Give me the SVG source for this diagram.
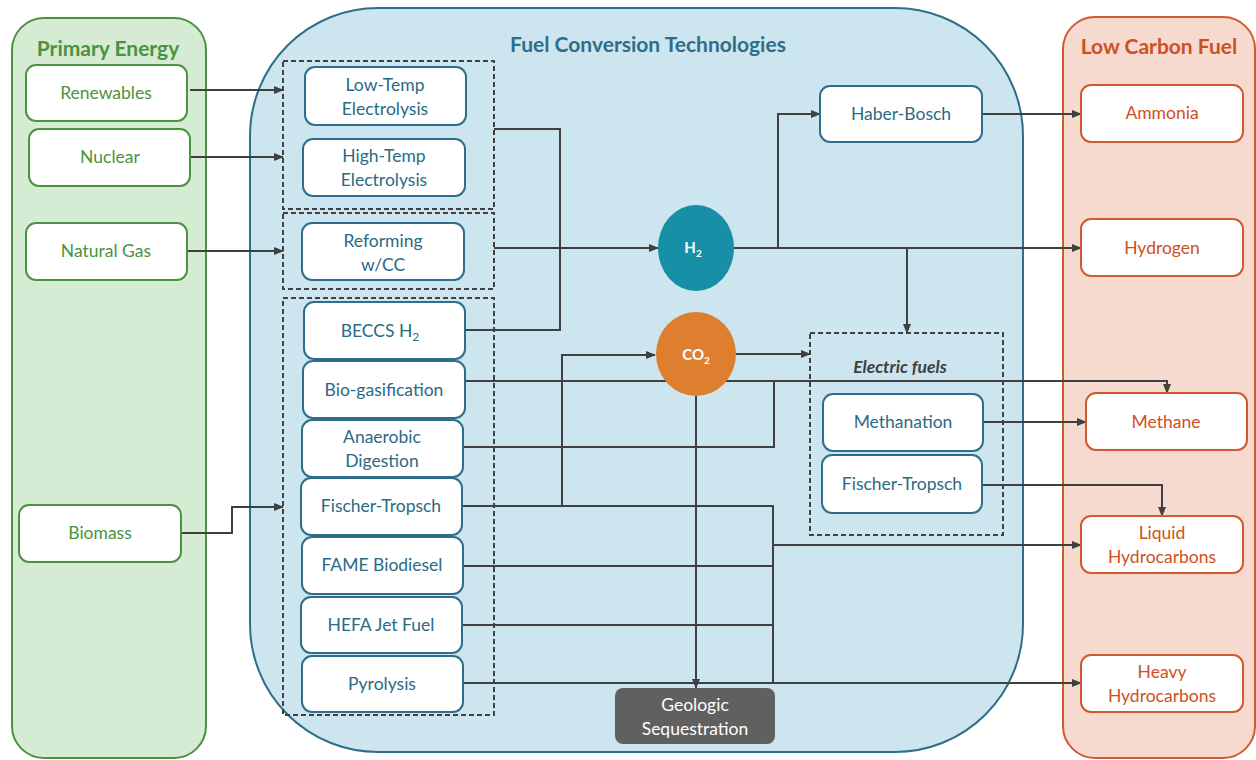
<svg xmlns="http://www.w3.org/2000/svg" width="1256" height="760" viewBox="0 0 1256 760">
<defs>
<marker id="arr" markerWidth="10" markerHeight="10" refX="9" refY="5" orient="auto" markerUnits="userSpaceOnUse">
<path d="M0,1 L10,5 L0,9 Z" fill="#404040"/>
</marker>
<style>
.t{font-family:Lato,"Open Sans","Liberation Sans",sans-serif;font-size:17.5px;text-anchor:middle}
.title{font-family:Lato,"Open Sans","Liberation Sans",sans-serif;font-size:21px;font-weight:bold;text-anchor:middle}
.gn{fill:#fff;stroke:#4a9340;stroke-width:2}
.bn{fill:#fff;stroke:#2e6e8a;stroke-width:2}
.on{fill:#fff;stroke:#d05a2e;stroke-width:2}
.gt{fill:#4a9340}
.bt{fill:#2b6a84}
.ot{fill:#d04f22}
.dash{fill:none;stroke:#404040;stroke-width:2;stroke-dasharray:5,3}
.c{fill:none;stroke:#404040;stroke-width:2}
.ca{fill:none;stroke:#404040;stroke-width:2;marker-end:url(#arr)}
</style>
</defs>
<rect width="1256" height="760" fill="#fff"/>
<g id="panel-primary">
<rect x="12" y="18" width="194" height="740" rx="32" fill="#d6ebd4" stroke="#4a9340" stroke-width="2"/>
<text class="title gt" x="108" y="56">Primary Energy</text>
</g>
<g id="panel-conversion">
<rect x="250" y="8" width="773" height="744" rx="128" fill="#cde5ef" stroke="#2e6e8a" stroke-width="2"/>
<text class="title" x="648" y="52" fill="#2e6e8a">Fuel Conversion Technologies</text>
</g>
<g id="panel-lowcarbon">
<rect x="1063" y="17" width="192" height="741" rx="32" fill="#f6dad0" stroke="#d05a2e" stroke-width="2"/>
<text class="title ot" x="1159" y="54">Low Carbon Fuel</text>
</g>
<g id="group-electrolysis"><rect class="dash" x="283" y="61" width="211" height="148"/></g>
<g id="group-reforming"><rect class="dash" x="283" y="213" width="211" height="76"/></g>
<g id="group-bio"><rect class="dash" x="283" y="298" width="211" height="417"/></g>
<g id="group-electric-fuels"><rect class="dash" x="810" y="333" width="193" height="202"/>
<text x="900" y="373" font-family="Lato,'Open Sans','Liberation Sans',sans-serif" font-size="17.5" font-weight="bold" font-style="italic" fill="#404040" text-anchor="middle">Electric fuels</text></g>

<g id="connectors">
<path class="ca" d="M190,90 H283"/>
<path class="ca" d="M190,157 H283"/>
<path class="ca" d="M187,251 H283"/>
<path class="ca" d="M181,533 H232 V507 H283"/>
<path class="c" d="M494,129 H560 V330 H465"/>
<path class="ca" d="M494,248 H658"/>
<path class="ca" d="M733,248 H1081"/>
<path class="ca" d="M778,248 V114 H820"/>
<path class="ca" d="M907,248 V333"/>
<path class="ca" d="M982,114 H1081"/>
<path class="ca" d="M735,354 H810"/>
<path class="ca" d="M462,506 H562 V355 H655"/>
<path class="ca" d="M465,381 H1167 V393"/>
<path class="c" d="M463,447 H774 V381"/>
<path class="c" d="M562,506 H773 V683"/>
<path class="ca" d="M773,545 H1081"/>
<path class="c" d="M463,566 H773"/>
<path class="c" d="M462,625 H773"/>
<path class="ca" d="M463,683 H1081"/>
<path class="ca" d="M696,396 V688"/>
<path class="ca" d="M983,422 H1086"/>
<path class="ca" d="M982,485 H1162 V516"/>
</g>

<g id="n-renewables"><rect class="gn" x="26" y="65" width="161" height="56" rx="10"/><text class="t gt" x="106" y="99">Renewables</text></g>
<g id="n-nuclear"><rect class="gn" x="29" y="129" width="161" height="57" rx="10"/><text class="t gt" x="110" y="163">Nuclear</text></g>
<g id="n-naturalgas"><rect class="gn" x="26" y="223" width="161" height="57" rx="10"/><text class="t gt" x="106" y="257">Natural Gas</text></g>
<g id="n-biomass"><rect class="gn" x="19" y="505" width="162" height="57" rx="10"/><text class="t gt" x="100" y="539">Biomass</text></g>

<g id="n-lowtemp"><rect class="bn" x="305" y="67" width="161" height="58" rx="10"/><text class="t bt" x="385" y="91">Low-Temp</text><text class="t bt" x="385" y="115">Electrolysis</text></g>
<g id="n-hightemp"><rect class="bn" x="303" y="139" width="162" height="57" rx="10"/><text class="t bt" x="384" y="162">High-Temp</text><text class="t bt" x="384" y="186">Electrolysis</text></g>
<g id="n-reforming"><rect class="bn" x="302" y="223" width="162" height="57" rx="10"/><text class="t bt" x="383" y="247">Reforming</text><text class="t bt" x="383" y="271">w/CC</text></g>
<g id="n-beccs"><rect class="bn" x="304" y="302" width="161" height="57" rx="10"/><text class="t bt" x="380" y="337">BECCS H<tspan font-size="12" dy="4">2</tspan></text></g>
<g id="n-biogas"><rect class="bn" x="303" y="361" width="162" height="57" rx="10"/><text class="t bt" x="384" y="396">Bio-gasification</text></g>
<g id="n-anaerobic"><rect class="bn" x="302" y="420" width="161" height="57" rx="10"/><text class="t bt" x="382" y="443">Anaerobic</text><text class="t bt" x="382" y="467">Digestion</text></g>
<g id="n-ft-bio"><rect class="bn" x="301" y="478" width="161" height="57" rx="10"/><text class="t bt" x="381" y="512">Fischer-Tropsch</text></g>
<g id="n-fame"><rect class="bn" x="302" y="537" width="161" height="57" rx="10"/><text class="t bt" x="382" y="571">FAME Biodiesel</text></g>
<g id="n-hefa"><rect class="bn" x="301" y="597" width="161" height="56" rx="10"/><text class="t bt" x="381" y="631">HEFA Jet Fuel</text></g>
<g id="n-pyrolysis"><rect class="bn" x="302" y="656" width="161" height="56" rx="10"/><text class="t bt" x="382" y="690">Pyrolysis</text></g>

<g id="n-h2"><ellipse cx="696" cy="248" rx="38" ry="43" fill="#178fa6"/><text x="693" y="253" font-family="Lato,'Open Sans','Liberation Sans',sans-serif" font-size="15" font-weight="bold" fill="#fff" text-anchor="middle">H<tspan font-size="10" dy="4">2</tspan></text></g>
<g id="n-co2"><ellipse cx="696" cy="354" rx="40" ry="42" fill="#de7f2f"/><text x="696" y="360" font-family="Lato,'Open Sans','Liberation Sans',sans-serif" font-size="15" font-weight="bold" fill="#fff" text-anchor="middle">CO<tspan font-size="10" dy="4">2</tspan></text></g>
<g id="n-haber"><rect class="bn" x="820" y="86" width="162" height="56" rx="10"/><text class="t bt" x="901" y="120">Haber-Bosch</text></g>
<g id="n-methanation"><rect class="bn" x="823" y="394" width="160" height="57" rx="10"/><text class="t bt" x="903" y="428">Methanation</text></g>
<g id="n-ft-e"><rect class="bn" x="822" y="455" width="160" height="58" rx="10"/><text class="t bt" x="902" y="490">Fischer-Tropsch</text></g>
<g id="n-geologic"><rect x="615" y="688" width="160" height="56" rx="8" fill="#606060"/><text class="t" fill="#fff" x="695" y="711">Geologic</text><text class="t" fill="#fff" x="695" y="735">Sequestration</text></g>

<g id="n-ammonia"><rect class="on" x="1081" y="85" width="162" height="57" rx="10"/><text class="t ot" x="1162" y="119">Ammonia</text></g>
<g id="n-hydrogen"><rect class="on" x="1081" y="219" width="162" height="57" rx="10"/><text class="t ot" x="1162" y="254">Hydrogen</text></g>
<g id="n-methane"><rect class="on" x="1086" y="393" width="161" height="57" rx="10"/><text class="t ot" x="1166" y="428">Methane</text></g>
<g id="n-liquid"><rect class="on" x="1081" y="516" width="162" height="57" rx="10"/><text class="t ot" x="1162" y="539">Liquid</text><text class="t ot" x="1162" y="563">Hydrocarbons</text></g>
<g id="n-heavy"><rect class="on" x="1081" y="655" width="162" height="57" rx="10"/><text class="t ot" x="1162" y="678">Heavy</text><text class="t ot" x="1162" y="702">Hydrocarbons</text></g>
</svg>
